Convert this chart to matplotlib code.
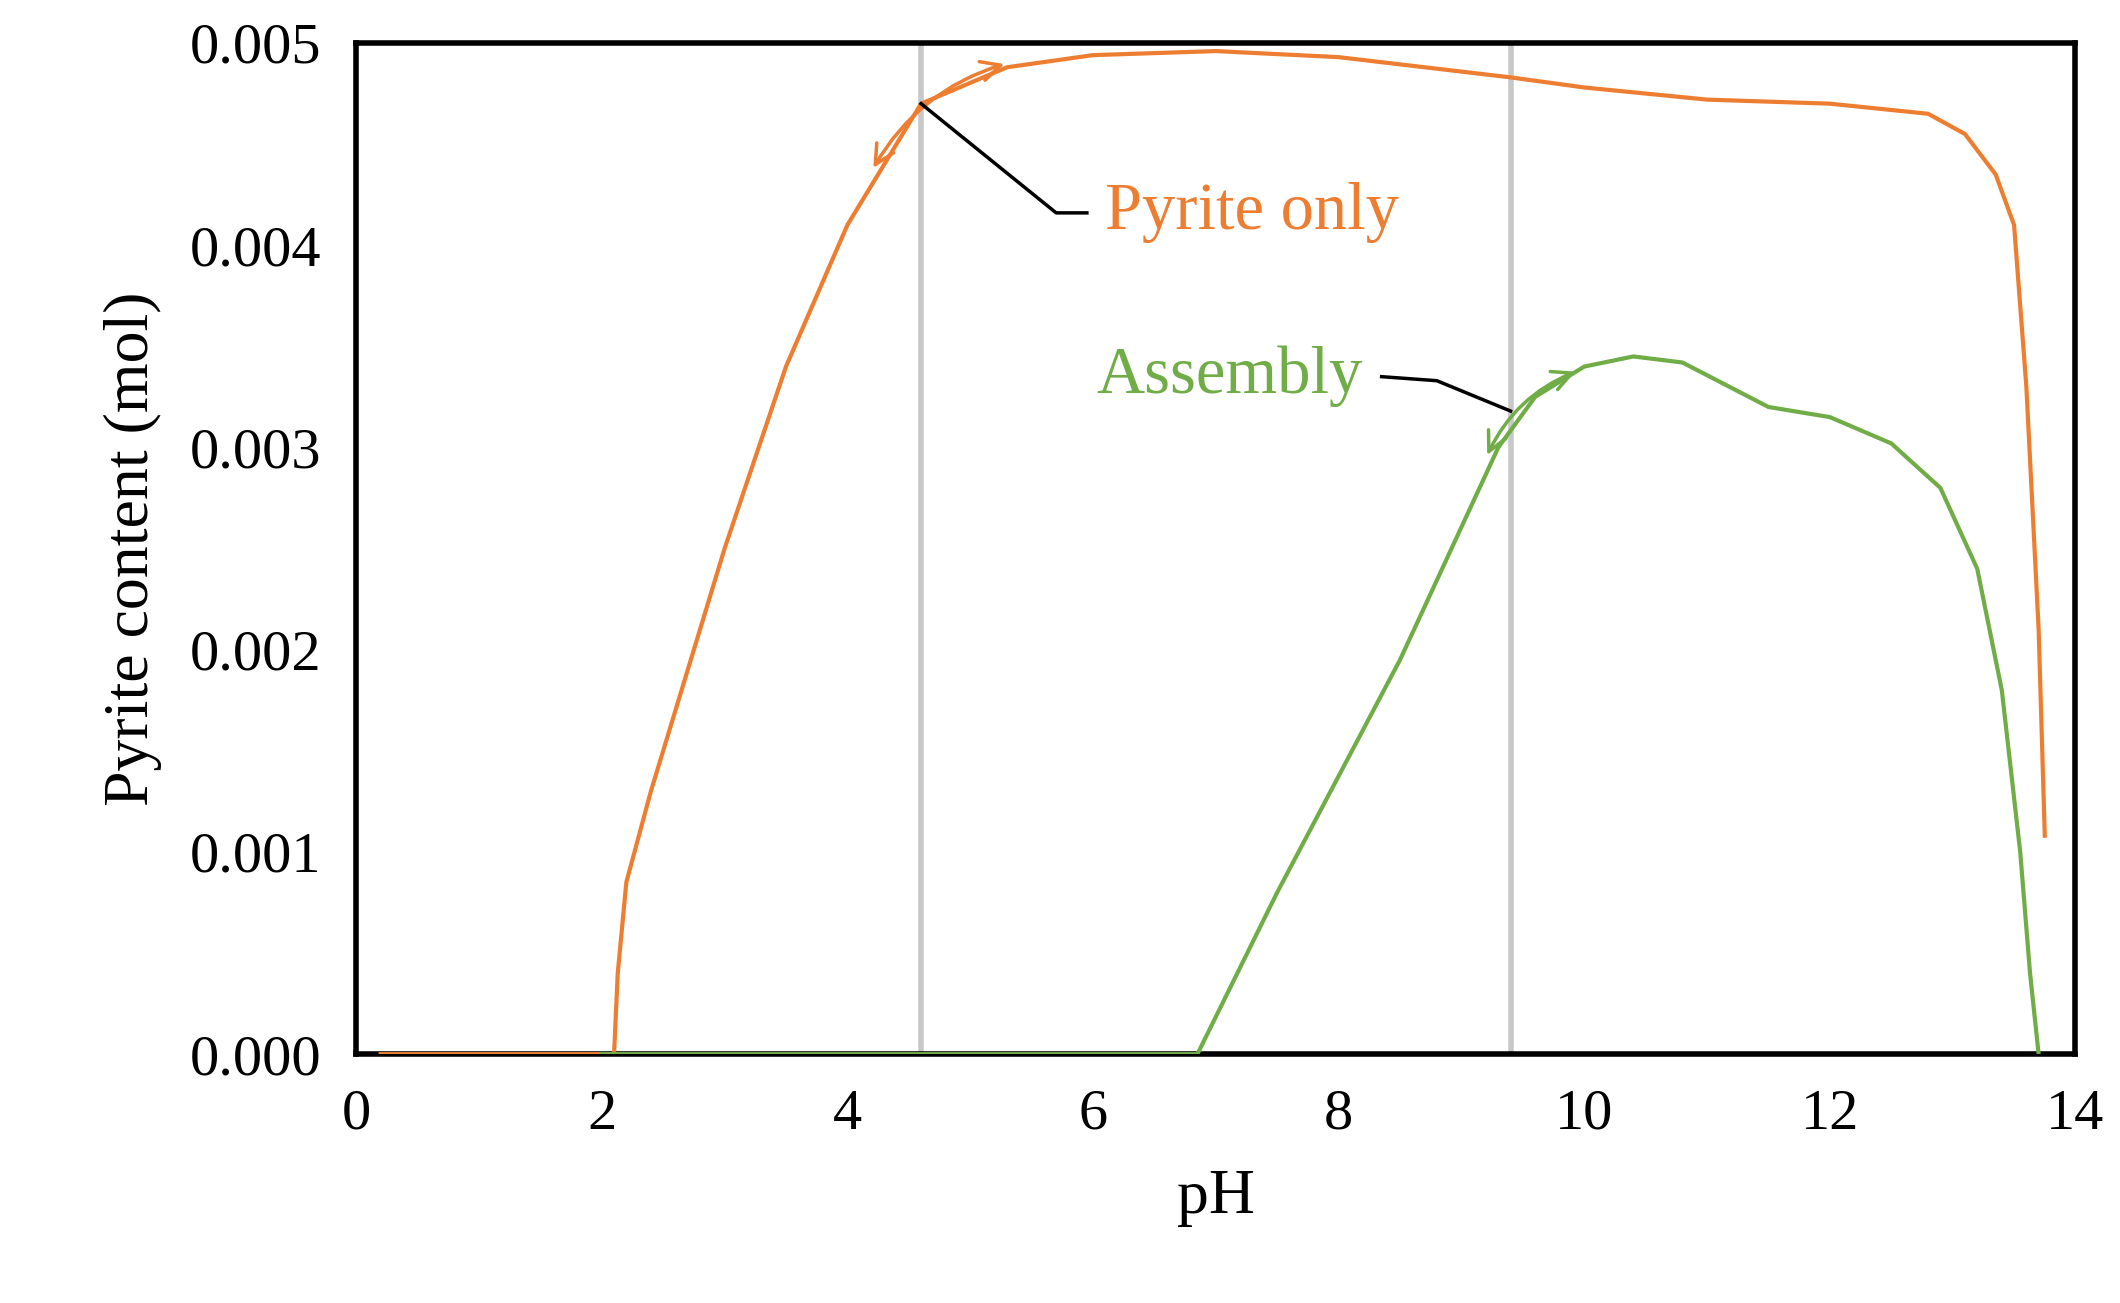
import matplotlib
matplotlib.use("Agg")
import matplotlib.pyplot as plt

plt.rcParams['font.family'] = ['Liberation Serif', 'DejaVu Serif']

ph_pyrite = [0.2, 1.0, 2.1, 2.13, 2.2, 2.4, 2.7, 3.0, 3.5, 4.0, 4.6, 5.3, 6.0, 7.0, 8.0, 9.4, 10.0, 11.0, 12.0, 12.8, 13.1, 13.35, 13.5, 13.6, 13.7, 13.75]
pyrite_only = [0, 0, 0, 0.0004, 0.00085, 0.0013, 0.0019, 0.0025, 0.0034, 0.0041, 0.0047, 0.00488, 0.00494, 0.00496, 0.00493, 0.00483, 0.00478, 0.00472, 0.0047, 0.00465, 0.00455, 0.00435, 0.0041, 0.0033, 0.0021, 0.00108]
ph_assembly = [2.0, 6.6, 6.85, 7.5, 8.5, 9.3, 9.6, 10.0, 10.4, 10.8, 11.5, 12.0, 12.5, 12.9, 13.2, 13.4, 13.55, 13.63, 13.7]
assembly = [0, 0, 0, 0.0008, 0.00195, 0.0030, 0.00325, 0.0034, 0.00345, 0.00342, 0.0032, 0.00315, 0.00302, 0.0028, 0.0024, 0.0018, 0.0010, 0.0004, 0]
vlines = [4.6, 9.4]

orange = '#ED7D31'
green = '#70AD47'

fig = plt.figure(figsize=(21.2, 13.03), dpi=100)
ax = fig.add_axes([0.168, 0.191, 0.811, 0.776])
for v in vlines:
    ax.axvline(v, color='#C8C8C8', lw=4, zorder=1)
ax.plot(ph_pyrite, pyrite_only, color=orange, lw=3, zorder=3)
ax.plot(ph_assembly, assembly, color=green, lw=3, zorder=3)

ax.set_xlim(0, 14)
ax.set_ylim(0, 0.005)
ax.set_xticks(range(0, 15, 2))
ax.set_yticks([0, 0.001, 0.002, 0.003, 0.004, 0.005])
ax.set_yticklabels(['0.000', '0.001', '0.002', '0.003', '0.004', '0.005'])
ax.tick_params(labelsize=42, length=0, pad=25)
for s in ax.spines.values():
    s.set_linewidth(4)
ax.set_xlabel('pH', fontsize=46, labelpad=20)
ax.set_ylabel('Pyrite content (mol)', fontsize=46, labelpad=20)

# annotations
ax.annotate('', xy=(4.2, 0.00437), xytext=(5.3, 0.00490),
            arrowprops=dict(arrowstyle='<->', color=orange, lw=2.5, mutation_scale=35,
                            connectionstyle='arc3,rad=0.2'))
ax.plot([4.6, 5.7, 5.95], [0.0047, 0.00416, 0.00416], color='black', lw=2.5, zorder=4)
ax.text(6.1, 0.00416, 'Pyrite only', color=orange, fontsize=48, va='center', ha='left')

ax.annotate('', xy=(9.2, 0.00295), xytext=(9.95, 0.00338),
            arrowprops=dict(arrowstyle='<->', color=green, lw=2.5, mutation_scale=35,
                            connectionstyle='arc3,rad=0.2'))
ax.plot([8.35, 8.8, 9.4], [0.00335, 0.00333, 0.00318], color='black', lw=2.5, zorder=4)
ax.text(8.2, 0.00335, 'Assembly', color=green, fontsize=48, va='center', ha='right')

fig.savefig('out.png', dpi=100)
